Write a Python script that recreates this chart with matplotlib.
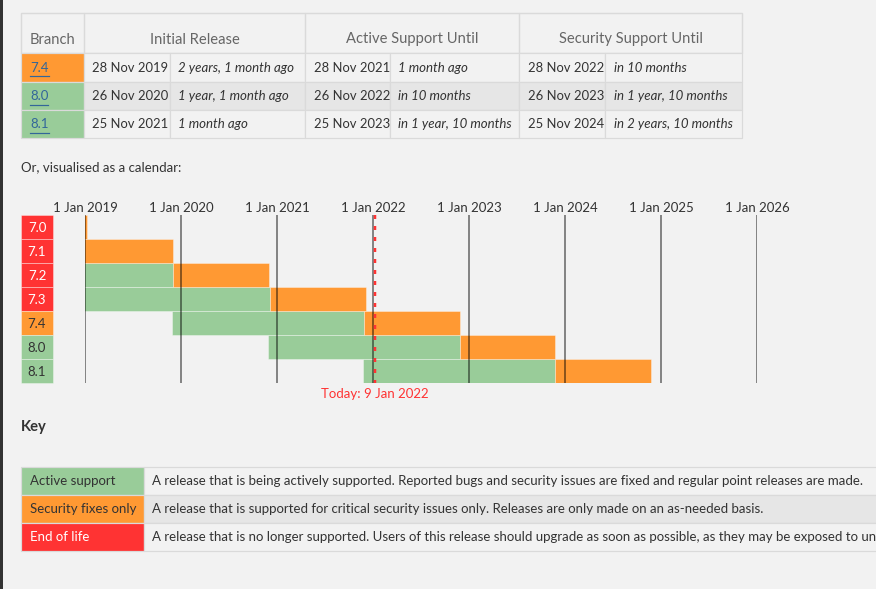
import matplotlib
matplotlib.use('Agg')
import matplotlib.pyplot as plt
import matplotlib.dates as mdates
from matplotlib.patches import Rectangle
from matplotlib.transforms import blended_transform_factory
import datetime as dt

plt.rcParams['font.family'] = ['Lato', 'DejaVu Sans']
plt.rcParams['lines.scale_dashes'] = False

# --- data -----------------------------------------------------------------
branches = ['7.0', '7.1', '7.2', '7.3', '7.4', '8.0', '8.1']
released = ['2015-12-03', '2016-12-01', '2017-11-30', '2018-12-06',
            '2019-11-28', '2020-11-26', '2021-11-25']
active_until = ['2018-01-04', '2018-12-01', '2019-11-30', '2020-12-06',
                '2021-11-28', '2022-11-26', '2023-11-25']
security_until = ['2019-01-10', '2019-12-01', '2020-11-30', '2021-12-06',
                  '2022-11-28', '2023-11-26', '2024-11-25']
today = '2022-01-09'
cal_start = 2019
cal_end = 2026

# relative texts shown in the table (supported branches only)
rel_initial = ['2 years, 1 month ago', '1 year, 1 month ago', '1 month ago']
rel_active = ['1 month ago', 'in 10 months', 'in 1 year, 10 months']
rel_security = ['in 10 months', 'in 1 year, 10 months', 'in 2 years, 10 months']

key_labels = ['Active support', 'Security fixes only', 'End of life']
key_texts = [
    'A release that is being actively supported. Reported bugs and security issues are fixed and regular point releases are made.',
    'A release that is supported for critical security issues only. Releases are only made on an as-needed basis.',
    'A release that is no longer supported. Users of this release should upgrade as soon as possible, as they may be exposed to unpatched security vulnerabilities.',
]

GREEN, ORANGE, RED = '#99cc99', '#ff9933', '#ff3333'
BG, LINE, STRIPE = '#f2f2f2', '#dadada', '#e6e6e6'
TXT, HEAD, LINK = '#333333', '#666666', '#336699'
FS = 13.3  # body text size in px


def d(s):
    return dt.date.fromisoformat(s)


def state(i):
    t = d(today)
    if d(security_until[i]) < t:
        return 'eol'
    if d(active_until[i]) < t:
        return 'security'
    return 'active'


state_color = {'active': GREEN, 'security': ORANGE, 'eol': RED}


def pt(px):
    return px * 0.72


fig = plt.figure(figsize=(8.76, 5.89), dpi=100, facecolor=BG)
ax = fig.add_axes([0, 0, 1, 1])
ax.set_xlim(0, 876)
ax.set_ylim(589, 0)
ax.axis('off')
ax.add_patch(Rectangle((0, 0), 2.7, 589, color='#333333', lw=0))

# --- top table ------------------------------------------------------------
cols = [21, 84, 170, 305, 390, 519, 605, 742]
rows = [13, 53, 82, 110, 138]
supported = [i for i in range(len(branches)) if state(i) != 'eol']

ax.add_patch(Rectangle((cols[0], rows[0]), cols[-1] - cols[0], rows[1] - rows[0],
                       fc=BG, ec=LINE, lw=pt(1.2)))
for a, b in [(0, 1), (1, 3), (3, 5), (5, 7)]:
    ax.add_patch(Rectangle((cols[a], rows[0]), cols[b] - cols[a], rows[1] - rows[0],
                           fc='none', ec=LINE, lw=pt(1.2)))
headers = ['Branch', 'Initial Release', 'Active Support Until', 'Security Support Until']
for (a, b), h in zip([(0, 1), (1, 3), (3, 5), (5, 7)], headers):
    ax.text((cols[a] + cols[b]) / 2, 39.5, h, ha='center', va='center',
            fontsize=pt(14.8), color=HEAD)

renderer = fig.canvas.get_renderer()
for r, i in enumerate(supported):
    y0, y1 = rows[r + 1], rows[r + 2]
    yc = (y0 + y1) / 2 + 0.5
    fill = STRIPE if r % 2 == 1 else BG
    for c in range(7):
        fc = state_color[state(i)] if c == 0 else fill
        ax.add_patch(Rectangle((cols[c], y0), cols[c + 1] - cols[c], y1 - y0,
                               fc=fc, ec=LINE, lw=pt(1.2)))
    t = ax.text(30, yc, branches[i], ha='left', va='center',
                fontsize=pt(FS), color=LINK)
    bb = t.get_window_extent(renderer)
    ax.plot([30, 30 + bb.width], [yc + 8, yc + 8], color=LINK, lw=pt(1.2))
    dates = [released[i], active_until[i], security_until[i]]
    rels = [rel_initial[r], rel_active[r], rel_security[r]]
    for k in range(3):
        ax.text(cols[1 + 2 * k] + 8.5, yc, d(dates[k]).strftime('%d %b %Y').lstrip('0'),
                ha='left', va='center', fontsize=pt(FS - 0.3), color=TXT)
        ax.text(cols[2 + 2 * k] + 8.5, yc, rels[k], ha='left', va='center',
                fontsize=pt(FS), color=TXT, style='italic')

ax.text(21, 167, 'Or, visualised as a calendar:', ha='left', va='center',
        fontsize=pt(FS), color=TXT)

# --- calendar -------------------------------------------------------------
cal = fig.add_axes([85 / 876, (589 - 383) / 589, 672 / 876, 168 / 589])
cal.set_facecolor('none')
cal.axis('off')
x0 = mdates.date2num(dt.date(cal_start, 1, 1))
x1 = mdates.date2num(dt.date(cal_end, 1, 1))
cal.set_xlim(x0, x1)
cal.set_ylim(len(branches) - 0.5, -0.5)

ypos = list(range(len(branches)))
rel_n = mdates.date2num([d(s) for s in released])
act_n = mdates.date2num([d(s) for s in active_until])
sec_n = mdates.date2num([d(s) for s in security_until])
cal.barh(ypos, act_n - rel_n, left=rel_n, height=1, color=GREEN,
         edgecolor=(1, 1, 1, 0.35), lw=0.7, zorder=1)
cal.barh(ypos, sec_n - act_n, left=act_n, height=1, color=ORANGE,
         edgecolor=(1, 1, 1, 0.35), lw=0.7, zorder=1)

years = [dt.date(y, 1, 1) for y in range(cal_start, cal_end + 1)]
yn = mdates.date2num(years)
cal.vlines(yn, -0.5, len(branches) - 0.5, color=(0, 0, 0, 0.45), lw=pt(2), zorder=3)
lab_tr = blended_transform_factory(cal.transData, ax.transData)
for y, x in zip(years, yn):
    cal.text(x, 207.5, '1 Jan %d' % y.year, transform=lab_tr, ha='center',
             va='center', fontsize=pt(FS), color=TXT, clip_on=False)

tn = mdates.date2num(d(today))
cal.plot([tn, tn], [-0.5, len(branches) - 0.5], color=RED, lw=pt(2.5),
         dashes=(pt(4), pt(7)), zorder=4, clip_on=False)
cal.text(tn, 394.5, 'Today: %s' % d(today).strftime('%d %b %Y').lstrip('0'),
         transform=lab_tr, ha='center', va='center', fontsize=pt(FS),
         color=RED, clip_on=False)

# branch labels left of the calendar
lbl_tr = blended_transform_factory(ax.transData, cal.transData)
for i, b in enumerate(branches):
    s = state(i)
    cal.add_patch(Rectangle((21, i - 0.5), 32, 1, transform=lbl_tr,
                            fc=state_color[s], ec=(1, 1, 1, 0.35), lw=0.7,
                            clip_on=False))
    cal.text(37, i + 0.03, b, transform=lbl_tr, ha='center', va='center',
             fontsize=pt(FS), color='white' if s == 'eol' else TXT, clip_on=False)

# --- key ------------------------------------------------------------------
ax.text(21, 427, 'Key', ha='left', va='center', fontsize=pt(14.8),
        color=TXT, fontweight='bold')
krows = [466.5, 494.5, 522.5, 550.5]
kcols = [21, 143.5, 890]
kcolors = [GREEN, ORANGE, RED]
for r in range(3):
    y0, y1 = krows[r], krows[r + 1]
    yc = (y0 + y1) / 2 + 0.5
    ax.add_patch(Rectangle((kcols[0], y0), kcols[1] - kcols[0], y1 - y0,
                           fc=kcolors[r], ec=LINE, lw=pt(1.2)))
    ax.add_patch(Rectangle((kcols[1], y0), kcols[2] - kcols[1], y1 - y0,
                           fc=STRIPE if r == 1 else BG, ec=LINE, lw=pt(1.2)))
    ax.text(30, yc, key_labels[r], ha='left', va='center', fontsize=pt(FS),
            color='white' if r == 2 else TXT)
    ax.text(152, yc, key_texts[r], ha='left', va='center', fontsize=pt(FS),
            color=TXT)

fig.savefig('out.png', dpi=100, facecolor=BG)
